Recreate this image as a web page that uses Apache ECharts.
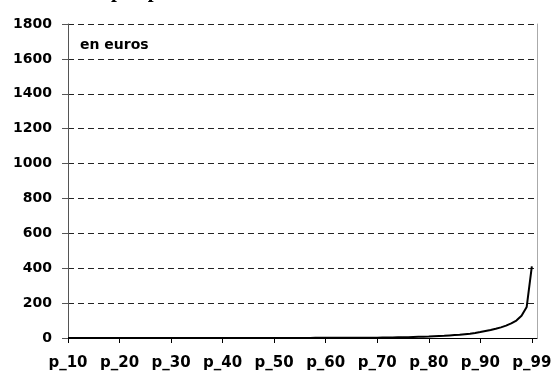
<!DOCTYPE html>
<html>
<head>
<meta charset="utf-8">
<script src="https://cdn.jsdelivr.net/npm/echarts@6/dist/echarts.min.js"></script>
<style>
  html, body { margin: 0; padding: 0; background: #fff; }
  #chart { width: 557px; height: 372px; }
</style>
</head>
<body>
<div id="chart"></div>
<script>
// Percentile categories, one per step (p_10 ... p_99 and the top point), plus an empty slot at the right edge
const categories = [
  'p_10','p_11','p_12','p_13','p_14','p_15','p_16','p_17','p_18','p_19',
  'p_20','p_21','p_22','p_23','p_24','p_25','p_26','p_27','p_28','p_29',
  'p_30','p_31','p_32','p_33','p_34','p_35','p_36','p_37','p_38','p_39',
  'p_40','p_41','p_42','p_43','p_44','p_45','p_46','p_47','p_48','p_49',
  'p_50','p_51','p_52','p_53','p_54','p_55','p_56','p_57','p_58','p_59',
  'p_60','p_61','p_62','p_63','p_64','p_65','p_66','p_67','p_68','p_69',
  'p_70','p_71','p_72','p_73','p_74','p_75','p_76','p_77','p_78','p_79',
  'p_80','p_81','p_82','p_83','p_84','p_85','p_86','p_87','p_88','p_89',
  'p_90','p_91','p_92','p_93','p_94','p_95','p_96','p_97','p_98','p_99',
  'p_100',
  ''
];

// Amount in euros at each percentile
const amounts = [
  0, 0, 0, 0, 0, 0, 0, 0, 0, 0,
  0, 0, 0, 0, 0, 0, 0, 0, 0, 0,
  0, 0, 0, 0, 0, 0, 0, 0, 0, 0,
  0, 0, 0, 0, 0, 0, 0, 0, 0, 0,
  0, 0, 0, 0.2, 0.3, 0.4, 0.5, 0.6, 0.8, 1,
  1.1, 1.2, 1.3, 1.4, 1.5, 1.6, 1.7, 1.8, 1.9, 2,
  2, 2.5, 3, 3.5, 4, 4.5, 5, 6, 7, 7.5,
  8.5, 10, 11.5, 13, 15, 17, 19, 22, 25, 29,
  34, 40, 46, 53, 61, 71, 84, 100, 128, 178,
  410
];

// Labels shown under every tenth category
const tickLabels = ['p_10','p_20','p_30','p_40','p_50','p_60','p_70','p_80','p_90','p_99'];

const yMin = 0, yMax = 1800, yStep = 200;

const labelFont = '"DejaVu Sans", "Liberation Sans", Arial, sans-serif';

const chart = echarts.init(document.getElementById('chart'), null, { renderer: 'canvas' });

chart.setOption({
  animation: false,
  backgroundColor: '#ffffff',
  grid: { left: 68, right: 20, top: 24, bottom: 34, containLabel: false },
  graphic: [
    {
      type: 'text',
      left: 111,
      top: -19,
      style: {
        text: 'par part',
        font: 'bold 21px "Liberation Serif", "Times New Roman", serif',
        fill: '#000'
      }
    },
    {
      type: 'text',
      left: 80,
      top: 38,
      style: {
        text: 'en euros',
        font: 'bold 14px ' + labelFont,
        fill: '#000'
      }
    }
  ],
  xAxis: {
    type: 'category',
    data: categories,
    boundaryGap: false,
    axisLine: { show: true, lineStyle: { color: '#000', width: 1 } },
    axisTick: {
      show: true,
      length: 5,
      interval: (i) => i % 10 === 0 && i <= 90,
      lineStyle: { color: '#000' }
    },
    axisLabel: {
      interval: (i) => i % 10 === 0 && i <= 90,
      margin: 18,
      color: '#000',
      fontFamily: labelFont,
      fontWeight: 'bold',
      fontSize: 15,
      formatter: (v, i) => tickLabels[i / 10]
    },
    splitLine: { show: false }
  },
  yAxis: [
    {
      type: 'value',
      min: yMin,
      max: yMax,
      interval: yStep,
      axisLine: { show: true, lineStyle: { color: '#555', width: 1 } },
      axisTick: { show: true, length: 6, lineStyle: { color: '#555' } },
      axisLabel: {
        margin: 16,
        color: '#000',
        fontFamily: labelFont,
        fontWeight: 'bold',
        fontSize: 14,
        formatter: (v) => String(v)
      },
      splitLine: {
        show: true,
        lineStyle: { color: '#222', width: 1, type: [6, 4] }
      }
    },
    {
      type: 'value',
      position: 'right',
      min: yMin,
      max: yMax,
      interval: yStep,
      axisLine: { show: true, lineStyle: { color: '#aaa', width: 1 } },
      axisTick: { show: false },
      axisLabel: { show: false },
      splitLine: { show: false }
    }
  ],
  series: [
    {
      type: 'line',
      data: amounts,
      yAxisIndex: 0,
      showSymbol: false,
      symbol: 'none',
      smooth: false,
      lineStyle: { color: '#000', width: 2 }
    }
  ]
});
</script>
</body>
</html>
